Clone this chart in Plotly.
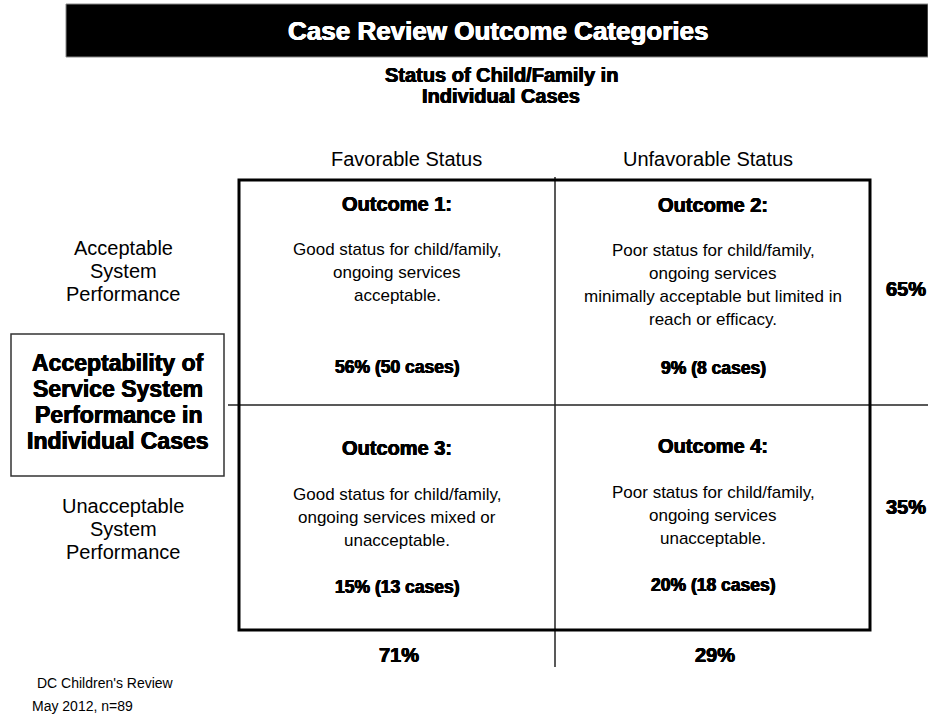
import plotly.graph_objects as go

# ---------------- data ----------------
title_text = "Case Review Outcome Categories"
subtitle_lines = ["Status of Child/Family in", "Individual Cases"]
col_labels = ["Favorable Status", "Unfavorable Status"]
row_labels = [["Acceptable", "System", "Performance"],
              ["Unacceptable", "System", "Performance"]]
side_title_lines = ["Acceptability of", "Service System", "Performance in", "Individual Cases"]

outcome_titles = ["Outcome 1:", "Outcome 2:", "Outcome 3:", "Outcome 4:"]
outcome_desc = [
    ["Good status for child/family,", "ongoing services", "acceptable."],
    ["Poor status for child/family,", "ongoing services",
     "minimally acceptable but limited in", "reach or efficacy."],
    ["Good status for child/family,", "ongoing services mixed or", "unacceptable."],
    ["Poor status for child/family,", "ongoing services", "unacceptable."],
]
outcome_pct = [56, 9, 15, 20]
outcome_cases = [50, 8, 13, 18]
row_pct = [65, 35]
col_pct = [71, 29]
footer_lines = ["DC Children's Review", "May 2012, n=89"]

# ---------------- layout / styling ----------------
FONT = "Liberation Sans, Arial, sans-serif"
W, H = 928, 717

cell_x = [397, 713, 397, 713]
head_y = [204, 205, 448, 446]
desc_y0 = [249, 250, 494, 492]
desc_dy = 23
pct_y = [367, 368, 587, 585]

annotations = []


def txt(x, y, s, size, bold=False, color="black", xanchor="center"):
    font = dict(family=FONT, size=size, color=color)
    if bold:
        font["shadow"] = f"0.5px 0px 0px {color}, -0.4px 0px 0px {color}, 0px 0.4px 0px {color}"
    annotations.append(dict(
        x=x, y=y, xref="x", yref="y", text=(f"<b>{s}</b>" if bold else s),
        showarrow=False, xanchor=xanchor, yanchor="middle", font=font))


# title banner text
txt(498, 31, title_text, 26, bold=True, color="white")
for i, s in enumerate(subtitle_lines):
    txt(501, 75 + i * 21, s, 20, bold=True)

# column labels
for x, s in zip([406, 708], col_labels):
    txt(x, 159, s, 20)

# row labels
for y0, lines in zip([248, 506], row_labels):
    for i, s in enumerate(lines):
        txt(123, y0 + i * 23, s, 20)

# side title
for i, s in enumerate(side_title_lines):
    txt(118, 363 + i * 26, s, 23, bold=True)

# cells
for k in range(4):
    txt(cell_x[k], head_y[k], outcome_titles[k], 20, bold=True)
    for i, s in enumerate(outcome_desc[k]):
        txt(cell_x[k], desc_y0[k] + i * desc_dy, s, 17)
    txt(cell_x[k], pct_y[k], f"{outcome_pct[k]}% ({outcome_cases[k]} cases)", 17.5, bold=True)

# row totals
for y, v in zip([289, 507], row_pct):
    txt(906, y, f"{v}%", 20, bold=True)

# column totals
for x, v in zip([399, 715], col_pct):
    txt(x, 655, f"{v}%", 20, bold=True)

# footer
txt(35, 683, footer_lines[0], 14, xanchor="left")
txt(30, 706, footer_lines[1], 14, xanchor="left")

shapes = [
    # title banner
    dict(type="rect", x0=66, x1=W, y0=4, y1=57, fillcolor="black",
         line=dict(color="#888888", width=1), layer="below"),
    # horizontal divider
    dict(type="line", x0=228, x1=W, y0=405, y1=405, line=dict(color="#222222", width=1.5)),
    # vertical divider
    dict(type="line", x0=555, x1=555, y0=177, y1=667, line=dict(color="#222222", width=1.5)),
    # main box
    dict(type="rect", x0=239, x1=870, y0=180, y1=630, line=dict(color="black", width=3)),
    # side box
    dict(type="rect", x0=11, x1=224, y0=334, y1=476, fillcolor="white",
         line=dict(color="#333333", width=1.5)),
]

fig = go.Figure()
fig.add_trace(go.Scatter(x=[0, W], y=[0, H], mode="markers",
                         marker=dict(opacity=0), hoverinfo="skip", showlegend=False))
fig.update_layout(
    width=W, height=H,
    margin=dict(l=0, r=0, t=0, b=0),
    paper_bgcolor="white", plot_bgcolor="white",
    xaxis=dict(range=[0, W], visible=False, fixedrange=True),
    yaxis=dict(range=[H, 0], visible=False, fixedrange=True),
    shapes=shapes, annotations=annotations, showlegend=False,
)
fig.write_html("out.html", config={"displayModeBar": False},
               post_script="document.body.style.margin='0';document.body.style.overflow='hidden';")
